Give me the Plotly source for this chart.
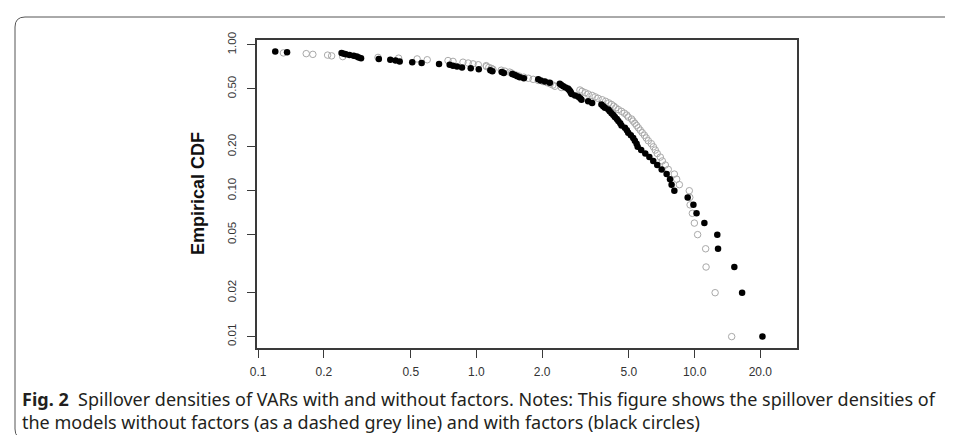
import plotly.graph_objects as go

# Spillover values (x) and empirical CDF levels (y)
with_factors_x = [20.45, 16.5, 15.2, 12.8, 12.7, 11.08, 10.2, 9.87, 9.29, 8.07,
                  7.84, 7.71, 7.44, 7.06, 6.74, 6.46, 6.20, 5.94, 5.69, 5.48,
                  5.42, 5.32, 5.23, 5.10, 4.96, 4.89, 4.79, 4.62, 4.56, 4.47,
                  4.40, 4.31, 4.24, 4.16, 4.08, 4.02, 3.88, 3.81, 3.74, 3.39,
                  3.25, 3.03, 2.99, 2.93, 2.83, 2.73, 2.71, 2.69, 2.66, 2.63,
                  2.56, 2.50, 2.45, 2.41, 2.17, 2.06, 1.97, 1.92, 1.65, 1.58,
                  1.54, 1.50, 1.46, 1.335, 1.306, 1.183, 1.158, 1.025, 0.942, 0.859,
                  0.815, 0.781, 0.754, 0.674, 0.561, 0.508, 0.445, 0.426, 0.403, 0.357,
                  0.296, 0.289, 0.283, 0.274, 0.262, 0.252, 0.247, 0.241, 0.1356, 0.1197]
with_factors_y = [0.01, 0.02, 0.03, 0.04, 0.05, 0.06, 0.07, 0.08, 0.09, 0.10,
                  0.11, 0.12, 0.13, 0.14, 0.15, 0.16, 0.17, 0.18, 0.19, 0.20,
                  0.21, 0.22, 0.23, 0.24, 0.25, 0.26, 0.27, 0.28, 0.29, 0.30,
                  0.31, 0.32, 0.33, 0.34, 0.35, 0.36, 0.37, 0.38, 0.39, 0.40,
                  0.41, 0.42, 0.43, 0.44, 0.45, 0.46, 0.47, 0.48, 0.49, 0.50,
                  0.51, 0.52, 0.53, 0.54, 0.55, 0.56, 0.57, 0.58, 0.59, 0.60,
                  0.61, 0.62, 0.63, 0.64, 0.65, 0.66, 0.67, 0.68, 0.69, 0.70,
                  0.71, 0.72, 0.73, 0.74, 0.75, 0.76, 0.77, 0.78, 0.79, 0.80,
                  0.81, 0.82, 0.83, 0.84, 0.85, 0.86, 0.87, 0.88, 0.89, 0.90]

without_factors_x = [14.78, 12.41, 11.28, 11.23, 10.32, 9.97, 9.76, 9.53, 9.50, 9.45,
                     8.51, 8.27, 8.07, 7.57, 7.34, 7.11, 6.96, 6.74, 6.60, 6.47,
                     6.33, 6.13, 6.00, 5.88, 5.75, 5.63, 5.52, 5.42, 5.32, 5.22,
                     5.14, 4.96, 4.89, 4.76, 4.62, 4.47, 4.35, 4.26, 4.16, 4.04,
                     3.91, 3.77, 3.61, 3.50, 3.39, 3.25, 3.15, 3.05, 2.98, 2.63,
                     2.45, 2.29, 2.24, 2.18, 2.11, 2.02, 1.92, 1.82, 1.73, 1.65,
                     1.57, 1.52, 1.47, 1.45, 1.42, 1.35, 1.30, 1.19, 1.17, 1.14,
                     1.111, 1.109, 1.02, 0.965, 0.917, 0.868, 0.781, 0.741, 0.595, 0.535,
                     0.440, 0.354, 0.244, 0.217, 0.208, 0.178, 0.166, 0.1305]
without_factors_y = [0.01, 0.02, 0.03, 0.04, 0.05, 0.06, 0.07, 0.08, 0.09, 0.10,
                     0.11, 0.12, 0.13, 0.14, 0.15, 0.16, 0.17, 0.18, 0.19, 0.20,
                     0.21, 0.22, 0.23, 0.24, 0.25, 0.26, 0.27, 0.28, 0.29, 0.30,
                     0.31, 0.32, 0.33, 0.34, 0.35, 0.36, 0.37, 0.38, 0.39, 0.40,
                     0.41, 0.42, 0.43, 0.44, 0.45, 0.46, 0.47, 0.48, 0.49, 0.50,
                     0.51, 0.52, 0.53, 0.54, 0.55, 0.56, 0.57, 0.58, 0.59, 0.60,
                     0.61, 0.62, 0.63, 0.64, 0.65, 0.66, 0.67, 0.68, 0.69, 0.70,
                     0.71, 0.72, 0.73, 0.74, 0.75, 0.76, 0.77, 0.78, 0.79, 0.80,
                     0.81, 0.82, 0.83, 0.84, 0.85, 0.86, 0.87, 0.88]

x_tick_vals = [0.1, 0.2, 0.5, 1.0, 2.0, 5.0, 10.0, 20.0]
x_tick_text = ["0.1", "0.2", "0.5", "1.0", "2.0", "5.0", "10.0", "20.0"]
y_tick_vals = [0.01, 0.02, 0.05, 0.10, 0.20, 0.50, 1.00]
y_tick_text = ["0.01", "0.02", "0.05", "0.10", "0.20", "0.50", "1.00"]

y_title = "Empirical CDF"
caption_bold = "Fig. 2"
caption_line1 = "Spillover densities of VARs with and without factors. Notes: This figure shows the spillover densities of"
caption_line2 = "the models without factors (as a dashed grey line) and with factors (black circles)"

W, H = 953, 435
ML, MR, MT, MB = 249, 164, 32, 95
PW, PH = W - ML - MR, H - MT - MB


def px(x):
    return (x - ML) / PW


def py(y):
    return (H - MB - y) / PH


fig = go.Figure()
fig.add_trace(go.Scatter(
    x=without_factors_x, y=without_factors_y, mode="markers",
    marker=dict(symbol="circle-open", size=6.5, color="#a9a9a9", line=dict(width=1, color="#a9a9a9")),
    name="without factors", showlegend=False, hoverinfo="x+y"))
fig.add_trace(go.Scatter(
    x=with_factors_x, y=with_factors_y, mode="markers",
    marker=dict(symbol="circle", size=6.5, color="black", line=dict(width=0)),
    name="with factors", showlegend=False, hoverinfo="x+y"))

axis_common = dict(type="log", showgrid=False, zeroline=False, showline=True, mirror=True,
                   linecolor="#3a3a3a", linewidth=1.5, ticks="outside", ticklen=8,
                   tickcolor="#3a3a3a", tickwidth=1)

fig.update_xaxes(range=[-1.0055, 1.469], tickvals=x_tick_vals, ticktext=x_tick_text,
                 ticklabelstandoff=4,
                 tickfont=dict(family="Liberation Sans Narrow, Arial Narrow, Liberation Sans, Arial", size=12, color="#333333"),
                 **axis_common)
fig.update_yaxes(range=[-2.078, 0.033], tickvals=y_tick_vals, ticktext=y_tick_text, tickangle=-90,
                 ticklabelstandoff=7,
                 tickfont=dict(family="Liberation Sans, Arial", size=11.5, color="#333333"),
                 **axis_common)

# y axis title (bold, rotated)
fig.add_annotation(x=px(190), y=py(186), xref="paper", yref="paper", text="<b>" + y_title + "</b>",
                   textangle=-90, showarrow=False, xanchor="center", yanchor="middle",
                   font=dict(family="Liberation Sans, Arial", size=18, color="#111111"))

# caption (two lines in one text block)
fig.add_annotation(x=px(12), y=py(402), xref="paper", yref="paper",
                   text="<b>" + caption_bold + "</b>  " + caption_line1 + "<br>" + caption_line2,
                   showarrow=False, xanchor="left", yanchor="middle", align="left",
                   font=dict(family="Noto Sans", size=18, color="#231f20"))

# outer rounded frame
r = 10
fx0, fy0, fy1, fx1 = 7, 9, 431, W + 5
path = (f"M {px(fx1)},{py(fy0)} L {px(fx0 + r)},{py(fy0)} "
        f"Q {px(fx0)},{py(fy0)} {px(fx0)},{py(fy0 + r)} "
        f"L {px(fx0)},{py(fy1 - r)} Q {px(fx0)},{py(fy1)} {px(fx0 + r)},{py(fy1)} "
        f"L {px(fx1)},{py(fy1)}")
fig.add_shape(type="path", path=path, xref="paper", yref="paper",
              line=dict(color="#555555", width=1))

fig.update_layout(width=W, height=H, margin=dict(l=ML, r=MR, t=MT, b=MB),
                  paper_bgcolor="white", plot_bgcolor="white", showlegend=False)

fig.write_html("out.html")
